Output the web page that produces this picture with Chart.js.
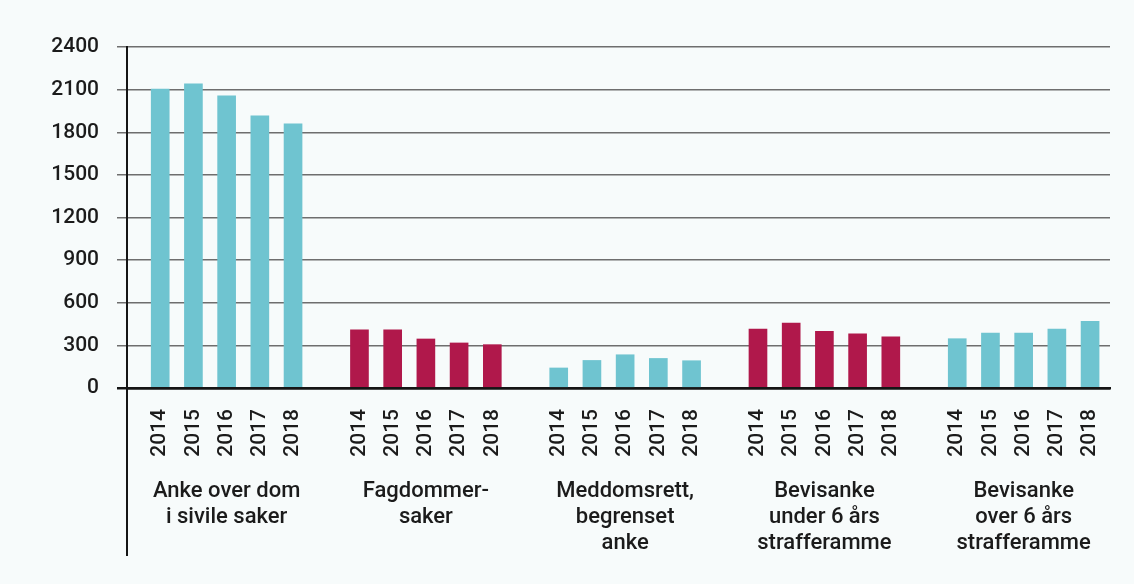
<!DOCTYPE html>
<html>
<head>
<meta charset="utf-8">
<script src="https://cdn.jsdelivr.net/npm/chart.js@4.4.1/dist/chart.umd.min.js"></script>
<style>
  html, body { margin: 0; padding: 0; background: #f7fbfb; }
  #wrap { width: 1134px; height: 584px; position: relative; }
</style>
</head>
<body>
<div id="wrap"><canvas id="chart"></canvas></div>
<script>
// kategorier og årstall
const groups = [
    ['Anke over dom', 'i sivile saker'],
    ['Fagdommer-', 'saker'],
    ['Meddomsrett,', 'begrenset', 'anke'],
    ['Bevisanke', 'under 6 års', 'strafferamme'],
    ['Bevisanke', 'over 6 års', 'strafferamme']
];
const years = ['2014', '2015', '2016', '2017', '2018'];

// antall saker per år (lest av figuren)
const sivileSaker = [2104, 2140, 2057, 1916, 1860];
const fagdommerSaker = [410, 410, 345, 317, 305];
const meddomsrett = [141, 194, 234, 208, 192];
const bevisUnder6 = [415, 457, 398, 382, 361];
const bevisOver6 = [347, 387, 387, 415, 469];

const yTicks = [0, 300, 600, 900, 1200, 1500, 1800, 2100, 2400];

const series = [sivileSaker, fagdommerSaker, meddomsrett, bevisUnder6, bevisOver6];
const CYAN = '#6fc4d0';
const RED = '#b0184b';
const groupColors = [CYAN, RED, CYAN, RED, CYAN];

// hver gruppe får 6 plasser: 5 søyler + ett mellomrom
const SLOTS = 6;
const points = [];
const colors = [];
const yearAt = {};
series.forEach((vals, g) => {
    vals.forEach((v, i) => {
        const slot = g * SLOTS + i;
        points.push({x: slot, y: v});
        colors.push(groupColors[g]);
        yearAt[slot] = years[i];
    });
});
const yearSlots = Object.keys(yearAt).map(Number);
const groupSlots = groups.map((_, g) => g * SLOTS + 2);

const font = {family: 'Roboto, "Liberation Sans", sans-serif', size: 21, weight: 500};
const textColor = '#1b1b1b';

// forlenger y-aksen ned forbi kategoriteksten
const axisExtend = {
    id: 'axisExtend',
    afterDraw(chart) {
        const {ctx, chartArea} = chart;
        ctx.save();
        ctx.strokeStyle = '#151515';
        ctx.lineWidth = 2;
        ctx.beginPath();
        ctx.moveTo(chartArea.left, chartArea.bottom);
        ctx.lineTo(chartArea.left, 556);
        ctx.stroke();
        ctx.restore();
    }
};

new Chart(document.getElementById('chart'), {
    type: 'bar',
    data: {
        datasets: [{
            data: points,
            backgroundColor: colors,
            borderWidth: 0,
            barThickness: 18
        }]
    },
    options: {
        responsive: true,
        maintainAspectRatio: false,
        animation: false,
        layout: {padding: {top: 47, right: 24, left: 0, bottom: 0}},
        plugins: {legend: {display: false}, tooltip: {enabled: false}},
        scales: {
            x: {
                type: 'linear',
                offset: false,
                min: -1,
                max: 28.6,
                afterBuildTicks: s => { s.ticks = yearSlots.map(v => ({value: v})); },
                afterFit: s => { s.height = 80; },
                grid: {display: false},
                border: {display: true, color: '#151515', width: 2.5},
                ticks: {
                    autoSkip: false,
                    minRotation: 90,
                    maxRotation: 90,
                    padding: 13,
                    color: textColor,
                    font: font,
                    callback: v => yearAt[v] || ''
                }
            },
            groups: {
                type: 'linear',
                position: 'bottom',
                offset: false,
                min: -1,
                max: 28.6,
                afterBuildTicks: s => { s.ticks = groupSlots.map(v => ({value: v})); },
                afterFit: s => { s.height = 116; },
                grid: {display: false},
                border: {display: false},
                ticks: {
                    autoSkip: false,
                    minRotation: 0,
                    maxRotation: 0,
                    padding: 3,
                    color: textColor,
                    font: Object.assign({}, font, {size: 22, lineHeight: 1.18}),
                    callback: v => groups[(v - 2) / SLOTS]
                }
            },
            y: {
                min: 0,
                max: 2400,
                afterBuildTicks: s => { s.ticks = yTicks.map(v => ({value: v})); },
                afterFit: s => { s.width = 127; },
                grid: {
                    color: c => c.tick && c.tick.value === 0 ? '#151515' : '#6e6e6e',
                    lineWidth: c => c.tick && c.tick.value === 0 ? 2.5 : 1.5,
                    tickLength: 10,
                    drawTicks: true
                },
                border: {display: true, color: '#151515', width: 2},
                ticks: {
                    padding: 18,
                    color: textColor,
                    font: font,
                    callback: v => String(v)
                }
            }
        }
    },
    plugins: [axisExtend]
});
</script>
</body>
</html>
